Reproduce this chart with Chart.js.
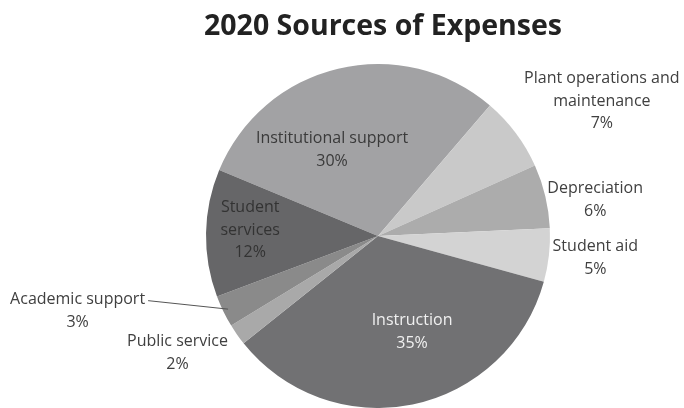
<!DOCTYPE html>
<html>
<head>
<meta charset="utf-8">
<script src="https://cdn.jsdelivr.net/npm/chart.js@4.4.1/dist/chart.umd.min.js"></script>
<style>
  html, body { margin: 0; padding: 0; background: #fff; }
  #wrap { width: 684px; height: 408px; position: relative; }
</style>
</head>
<body>
<div id="wrap"><canvas id="pie"></canvas></div>
<script>
// --- Data ---
const categories = ['Institutional support', 'Plant operations and maintenance', 'Depreciation', 'Student aid',
                    'Instruction', 'Public service', 'Academic support', 'Student services'];
const shares = [30, 7, 6, 5, 35, 2, 3, 12];

// --- Style ---
const sliceColors = ['#a2a2a4', '#c9c9c9', '#acacac', '#d3d3d3', '#717173', '#a9a9a9', '#8a8a8a', '#666668'];
const labelLines = [
  ['Institutional support'], ['Plant operations and', 'maintenance'], ['Depreciation'], ['Student aid'],
  ['Instruction'], ['Public service'], ['Academic support'], ['Student', 'services']
];
// [angle offset from slice middle (deg), distance as fraction of radius, text colour]
const labelPlace = [
  [-14.7, 0.567, '#3a3a3a'], [5.7, 1.52, '#404040'], [4.0, 1.28, '#404040'], [-0.6, 1.27, '#404040'],
  [-7.9, 0.593, '#f0f0f0'], [4.7, 1.35, '#404040'], [12.0, 1.80, '#404040'], [1.7, 0.744, '#333333']
];
const FONT = '"Open Sans", "Noto Sans", sans-serif';

const labelPlugin = {
  id: 'sliceLabels',
  afterDraw(chart) {
    const ctx = chart.ctx;
    const meta = chart.getDatasetMeta(0);
    ctx.save();
    // title
    ctx.fillStyle = '#222';
    ctx.font = 'bold 28.5px ' + FONT;
    ctx.textAlign = 'center';
    ctx.textBaseline = 'middle';
    ctx.fillText('2020 Sources of Expenses', 383, 27);

    ctx.font = '16px ' + FONT;
    meta.data.forEach((arc, i) => {
      const p = arc.getProps(['x', 'y', 'startAngle', 'endAngle', 'outerRadius']);
      const mid = (p.startAngle + p.endAngle) / 2 + labelPlace[i][0] * Math.PI / 180;
      const r = p.outerRadius * labelPlace[i][1];
      const cx = p.x + Math.cos(mid) * r;
      const cy = p.y + Math.sin(mid) * r;
      const lines = labelLines[i].concat([shares[i] + '%']);
      const lh = 22.5;
      const top = cy - (lines.length - 1) * lh / 2;
      ctx.fillStyle = labelPlace[i][2];
      lines.forEach((t, k) => ctx.fillText(t, cx, top + k * lh));

      if (categories[i] === 'Academic support') {
        // leader line from label to its slice
        const w = ctx.measureText(labelLines[i][0]).width;
        const sm = (p.startAngle + p.endAngle) / 2;
        const ex = p.x + Math.cos(sm) * p.outerRadius * 0.97;
        const ey = p.y + Math.sin(sm) * p.outerRadius * 0.97;
        ctx.strokeStyle = '#555';
        ctx.lineWidth = 1;
        ctx.beginPath();
        ctx.moveTo(cx + w / 2 + 3, top + 1);
        ctx.lineTo(ex, ey);
        ctx.stroke();
      }
    });
    ctx.restore();
  }
};

new Chart(document.getElementById('pie').getContext('2d'), {
  type: 'pie',
  data: {
    labels: categories,
    datasets: [{
      data: shares,
      backgroundColor: sliceColors,
      borderWidth: 0
    }]
  },
  options: {
    responsive: true,
    maintainAspectRatio: false,
    animation: false,
    rotation: 292.6,
    layout: { padding: { top: 64, left: 206, right: 134, bottom: 0 } },
    plugins: {
      legend: { display: false },
      title: { display: false },
      tooltip: { enabled: false }
    }
  },
  plugins: [labelPlugin]
});
</script>
</body>
</html>
